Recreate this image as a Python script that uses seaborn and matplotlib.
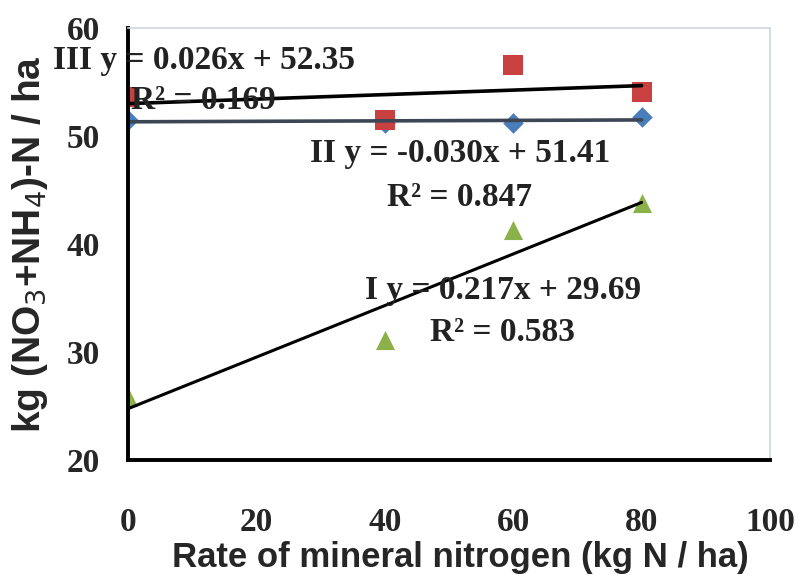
import numpy as np
import pandas as pd
from matplotlib import pyplot as plt
import seaborn as sns

# nitrogen rates (kg N / ha)
rates = [0, 40, 60, 80]

# soil mineral N per treatment
series_I = [25.8, 31.1, 41.3, 43.8]
series_II = [51.5, 51.2, 51.2, 51.8]
series_III = [53.6, 51.5, 56.6, 54.1]

x_ticks = [0, 20, 40, 60, 80, 100]
y_ticks = [20, 30, 40, 50, 60]

df = pd.DataFrame({'rate': rates, 'I': series_I, 'II': series_II, 'III': series_III})

sns.set_style('white')
plt.rcParams['font.family'] = ['Liberation Sans', 'DejaVu Sans']

fig = plt.figure(figsize=(8, 5.75), dpi=100)
ax = fig.add_axes([0.16, 0.2, 0.8025, 0.751])

# II first so the red squares sit on top of it
sns.regplot(data=df, x='rate', y='II', ax=ax, ci=None, marker='D',
            scatter_kws={'s': 110, 'color': '#4a7ebb', 'alpha': 1, 'linewidths': 0},
            line_kws={'color': '#3c4655', 'lw': 2.6})
sns.regplot(data=df, x='rate', y='III', ax=ax, ci=None, marker='s',
            scatter_kws={'s': 200, 'color': '#c8403f', 'alpha': 1, 'linewidths': 0},
            line_kws={'color': 'black', 'lw': 2.6})
sns.regplot(data=df, x='rate', y='I', ax=ax, ci=None, marker='^',
            scatter_kws={'s': 190, 'color': '#8cb04a', 'alpha': 1, 'linewidths': 0},
            line_kws={'color': 'black', 'lw': 2.2})

ax.set_xlim(0, 100)
ax.set_ylim(20, 60)
ax.set_xticks(x_ticks)
ax.set_yticks(y_ticks)

tick_font = dict(family='Liberation Serif', weight='bold', size=24)
ax.set_xticklabels([str(t) for t in x_ticks], fontdict=tick_font)
ax.set_yticklabels([str(t) for t in y_ticks], fontdict=tick_font)
ax.tick_params(axis='x', direction='out', length=7, width=2.5, pad=27, color='black')
ax.tick_params(axis='y', length=0, pad=20)

for side in ['left', 'bottom']:
    ax.spines[side].set_color('black')
    ax.spines[side].set_linewidth(2.8)
for side in ['top', 'right']:
    ax.spines[side].set_color('#cdd5e3')
    ax.spines[side].set_linewidth(1.2)

ax.set_xlabel('Rate of mineral nitrogen (kg N / ha)', fontsize=25, fontweight='bold')
ax.xaxis.set_label_coords(0.517, -0.188)
ax.set_ylabel('kg (NO$_3$+NH$_4$)-N / ha', fontsize=28, fontweight='bold', labelpad=12)

# trendline equations as in the original
eq_font = dict(family='Liberation Serif', weight='bold', size=24, color='#222222', va='center')
ax.text(-11.7, 57.0, 'III y = 0.026x + 52.35', clip_on=False, **eq_font)
ax.text(0.5, 53.3, 'R² = 0.169', **eq_font)
ax.text(28.3, 48.4, 'II y = -0.030x + 51.41', **eq_font)
ax.text(40.3, 44.3, 'R² = 0.847', **eq_font)
ax.text(36.9, 35.7, 'I y = 0.217x + 29.69', **eq_font)
ax.text(47.0, 31.8, 'R² = 0.583', **eq_font)

plt.savefig('out.png', dpi=100)
